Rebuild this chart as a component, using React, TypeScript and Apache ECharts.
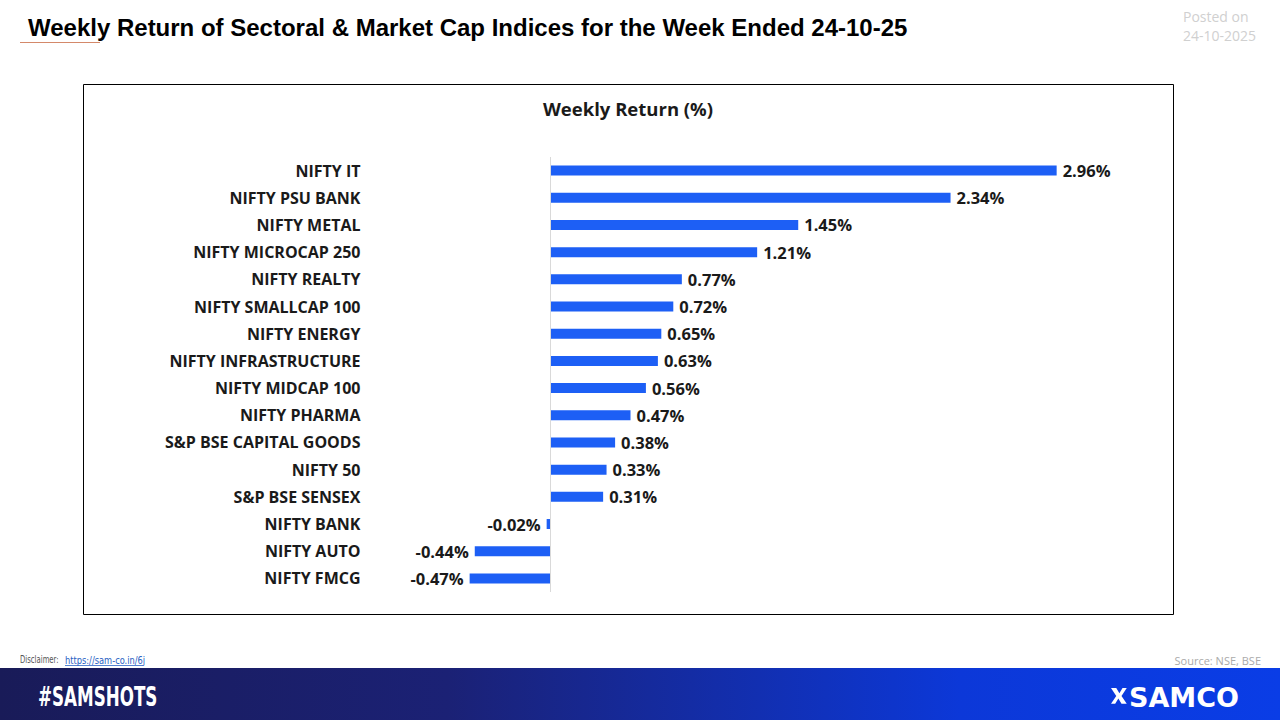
import React, { useEffect, useRef } from "react";
import * as echarts from "echarts";

const categories = [
  "NIFTY IT",
  "NIFTY PSU BANK",
  "NIFTY METAL",
  "NIFTY MICROCAP 250",
  "NIFTY REALTY",
  "NIFTY SMALLCAP 100",
  "NIFTY ENERGY",
  "NIFTY INFRASTRUCTURE",
  "NIFTY MIDCAP 100",
  "NIFTY PHARMA",
  "S&P BSE CAPITAL GOODS",
  "NIFTY 50",
  "S&P BSE SENSEX",
  "NIFTY BANK",
  "NIFTY AUTO",
  "NIFTY FMCG",
];
const weeklyReturns = [2.96, 2.34, 1.45, 1.21, 0.77, 0.72, 0.65, 0.63, 0.56, 0.47, 0.38, 0.33, 0.31, -0.02, -0.44, -0.47];

const titleText = "Weekly Return of Sectoral & Market Cap Indices for the Week Ended 24-10-25";
const chartTitle = "Weekly Return (%)";
const postedLines = ["Posted on", "24-10-2025"];

const LOGO_D =
  "M0 0 L5 0 L8 5 L11 0 L15 0 L10 7.5 L15 15 L10 15 L7 10 L4 15 L0 15 L5 7.5 Z";

export default function App() {
  const ref = useRef<HTMLDivElement>(null);
  useEffect(() => {
    if (!ref.current) return;
    document.body.style.margin = "0";
    try {
      echarts.graphic.registerShape("samcoLogo", echarts.graphic.extendPath(LOGO_D as any, {}) as any);
    } catch (e) {}
    const chart = echarts.init(ref.current, null, { renderer: "svg" });
    const font = "'Open Sans', 'Noto Sans', sans-serif";
    const data = weeklyReturns.map((v) => ({
      value: v,
      label: { position: v < 0 ? "left" : "right" },
    }));
    chart.setOption({
      animation: false,
      backgroundColor: "#ffffff",
      grid: { left: 464.5, right: 216.5, top: 157, bottom: 128, containLabel: false },
      xAxis: {
        type: "value",
        min: -0.5,
        max: 3.0,
        show: false,
      },
      yAxis: {
        type: "category",
        data: categories,
        inverse: true,
        axisLine: { show: false },
        axisTick: { show: false },
        splitLine: { show: false },
        axisLabel: {
          margin: 104,
          fontFamily: font,
          fontWeight: "bold",
          fontSize: 16,
          color: "#1a1a1a",
        },
      },
      series: [
        {
          type: "bar",
          data,
          barWidth: 10,
          itemStyle: { color: "#1d5ff5" },
          label: {
            show: true,
            distance: 6,
            fontFamily: font,
            fontWeight: "bold",
            fontSize: 16.5,
            color: "#1a1a1a",
            formatter: (p: any) => p.value.toFixed(2) + "%",
          },
          markLine: {
            silent: true,
            symbol: "none",
            label: { show: false },
            lineStyle: { color: "#d9d9d9", type: "solid", width: 1 },
            data: [{ xAxis: 0 }],
          },
        },
      ],
      graphic: [
        {
          type: "rect",
          shape: { x: 83.5, y: 84.5, width: 1090, height: 530 },
          style: { fill: "none", stroke: "#000000", lineWidth: 1 },
          silent: true,
        },
        {
          type: "text",
          x: 628,
          y: 108,
          style: {
            text: chartTitle,
            fontFamily: font,
            fontWeight: "bold",
            fontSize: 18.5,
            fill: "#1a1a1a",
            align: "center",
            verticalAlign: "middle",
          },
        },
        {
          type: "text",
          x: 28,
          y: 27,
          style: {
            text: titleText,
            fontFamily: "'Liberation Sans', Arial, sans-serif",
            fontWeight: "bold",
            fontSize: 24,
            fill: "#000000",
            verticalAlign: "middle",
          },
        },
        {
          type: "line",
          shape: { x1: 20, y1: 42.5, x2: 100, y2: 42.5 },
          style: { stroke: "#d4896a", lineWidth: 1 },
        },
        {
          type: "text",
          x: 1183,
          y: 16,
          style: {
            text: postedLines[0],
            fontFamily: font,
            fontSize: 14,
            fill: "#d0d0d0",
            verticalAlign: "middle",
          },
        },
        {
          type: "text",
          x: 1183,
          y: 35,
          style: {
            text: postedLines[1],
            fontFamily: font,
            fontSize: 14,
            fill: "#d0d0d0",
            verticalAlign: "middle",
          },
        },
        {
          type: "text",
          x: 20,
          y: 660,
          scaleX: 0.69,
          style: {
            text: "Disclaimer:",
            fontFamily: "'DejaVu Sans', sans-serif",
            fontSize: 10,
            fill: "#555555",
            verticalAlign: "middle",
          },
        },
        {
          type: "text",
          x: 65,
          y: 660,
          scaleX: 0.83,
          style: {
            text: "https://sam-co.in/6j",
            fontFamily: "'DejaVu Sans', sans-serif",
            fontSize: 10,
            fill: "#2a62c4",
            verticalAlign: "middle",
          },
        },
        {
          type: "line",
          shape: { x1: 65, y1: 665.5, x2: 143, y2: 665.5 },
          style: { stroke: "#2a62c4", lineWidth: 0.8 },
        },
        {
          type: "text",
          x: 1261,
          y: 660,
          style: {
            text: "Source: NSE, BSE",
            fontFamily: font,
            fontSize: 11,
            fill: "#aaaaaa",
            align: "right",
            verticalAlign: "middle",
          },
        },
        {
          type: "rect",
          shape: { x: 0, y: 668, width: 1280, height: 52 },
          style: {
            fill: new echarts.graphic.LinearGradient(0, 0, 1, 0, [
              { offset: 0, color: "#191b58" },
              { offset: 0.35, color: "#1b2175" },
              { offset: 0.75, color: "#0c38d8" },
              { offset: 1, color: "#0a3de6" },
            ]),
          },
          silent: true,
        },
        {
          type: "text",
          x: 38,
          y: 696,
          scaleX: 0.62,
          style: {
            text: "#SAMSHOTS",
            fontFamily: "'DejaVu Sans', sans-serif",
            fontWeight: "bold",
            fontSize: 27,
            fill: "#ffffff",
            verticalAlign: "middle",
          },
        },
        {
          type: "samcoLogo",
          x: 1111,
          y: 688,
          scaleX: 1.05,
          scaleY: 1.05,
          style: { fill: "#ffffff" },
        },
        {
          type: "text",
          x: 1129,
          y: 697,
          style: {
            text: "SAMCO",
            fontFamily: "'DejaVu Sans', sans-serif",
            fontWeight: "bold",
            fontSize: 27,
            fill: "#ffffff",
            verticalAlign: "middle",
          },
        },
      ],
    });
    return () => chart.dispose();
  }, []);
  return (
    <div
      ref={ref}
      style={{ position: "fixed", left: 0, top: 0, width: 1280, height: 720 }}
    />
  );
}
